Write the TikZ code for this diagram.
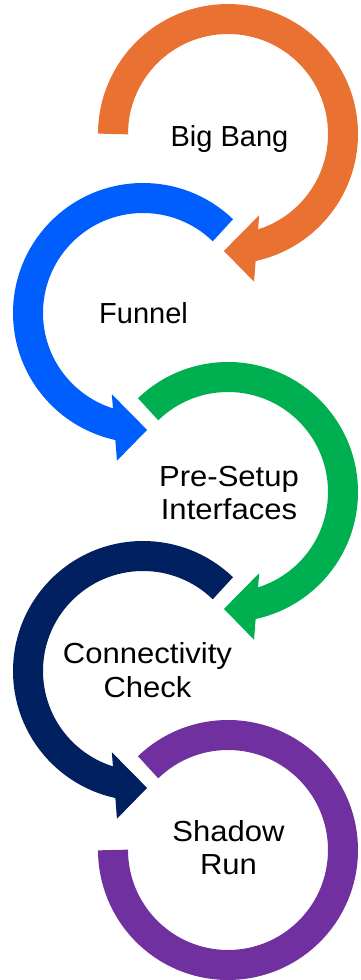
\documentclass[tikz,border=0pt]{standalone}
\usepackage{fontspec}
\setmainfont{Liberation Sans}
\newfontfamily\widefont[FakeStretch=1.07]{Liberation Sans}
\usetikzlibrary{calc,positioning}
\usepackage{xcolor}
\newcommand{\ringrad}{115pt}
\tikzset{
    ringsty/.style={line width=30pt},
    namesty/.style={align=center,font=\fontsize{29}{33.5}\selectfont,text=black,inner sep=0pt},
    widesty/.style={namesty,font=\widefont\fontsize{29}{33.5}\selectfont},
}
\definecolor{bborange}{HTML}{E97132}
\definecolor{fnblue}{HTML}{005EFF}
\definecolor{psgreen}{HTML}{00B050}
\definecolor{ccnavy}{HTML}{002060}
\definecolor{srpurple}{HTML}{7030A0}

\begin{document}
\begin{tikzpicture}[x=1pt,y=1pt]
  \useasboundingbox (0,0) rectangle (360,980);
  \coordinate (C1) at (228,846);
  \coordinate (C2) at (143,667);
  \coordinate (C3) at (228,488);
  \coordinate (C4) at (143,309);
  \coordinate (C5) at (228,130);

  % Big Bang
  \draw[ringsty, draw=bborange] ($(C1)+(180:\ringrad)$) arc[start angle=180, end angle=-78, radius=\ringrad];
  \fill[bborange] ($(C1)+(-69:87pt)$) -- ($(C1)+(-92:117pt)$) -- ($(C1)+(-80:150pt)$) -- cycle;
  % Funnel
  \draw[ringsty, draw=fnblue] ($(C2)+(46:\ringrad)$) arc[start angle=46, end angle=258, radius=\ringrad];
  \fill[fnblue] ($(C2)+(-111:87pt)$) -- ($(C2)+(-88:117pt)$) -- ($(C2)+(-100:150pt)$) -- cycle;
  % Pre-Setup
  \draw[ringsty, draw=psgreen] ($(C3)+(134:\ringrad)$) arc[start angle=134, end angle=-78, radius=\ringrad];
  \fill[psgreen] ($(C3)+(-69:87pt)$) -- ($(C3)+(-92:117pt)$) -- ($(C3)+(-80:150pt)$) -- cycle;
  % Connectivity
  \draw[ringsty, draw=ccnavy] ($(C4)+(46:\ringrad)$) arc[start angle=46, end angle=258, radius=\ringrad];
  \fill[ccnavy] ($(C4)+(-111:87pt)$) -- ($(C4)+(-88:117pt)$) -- ($(C4)+(-100:150pt)$) -- cycle;
  % Shadow Run
  \draw[ringsty, draw=srpurple] ($(C5)+(134:\ringrad)$) arc[start angle=134, end angle=-180, radius=\ringrad];

  \node[namesty] (bigbang) at ($(C1)+(1.5,-4.6)$) {Big Bang};
  \node[namesty] (funnel) at ($(C2)+(0.5,-0.4)$) {Funnel};
  \node[widesty] (presetup) at ($(C3)+(1,-1)$) {Pre-Setup\\Interfaces};
  \node[widesty] (conncheck) at ($(C4)+(4.5,1)$) {Connectivity\\Check};
  \node[widesty] (shadowrun) at ($(C5)+(0.5,2.2)$) {Shadow\\Run};
\end{tikzpicture}
\end{document}
